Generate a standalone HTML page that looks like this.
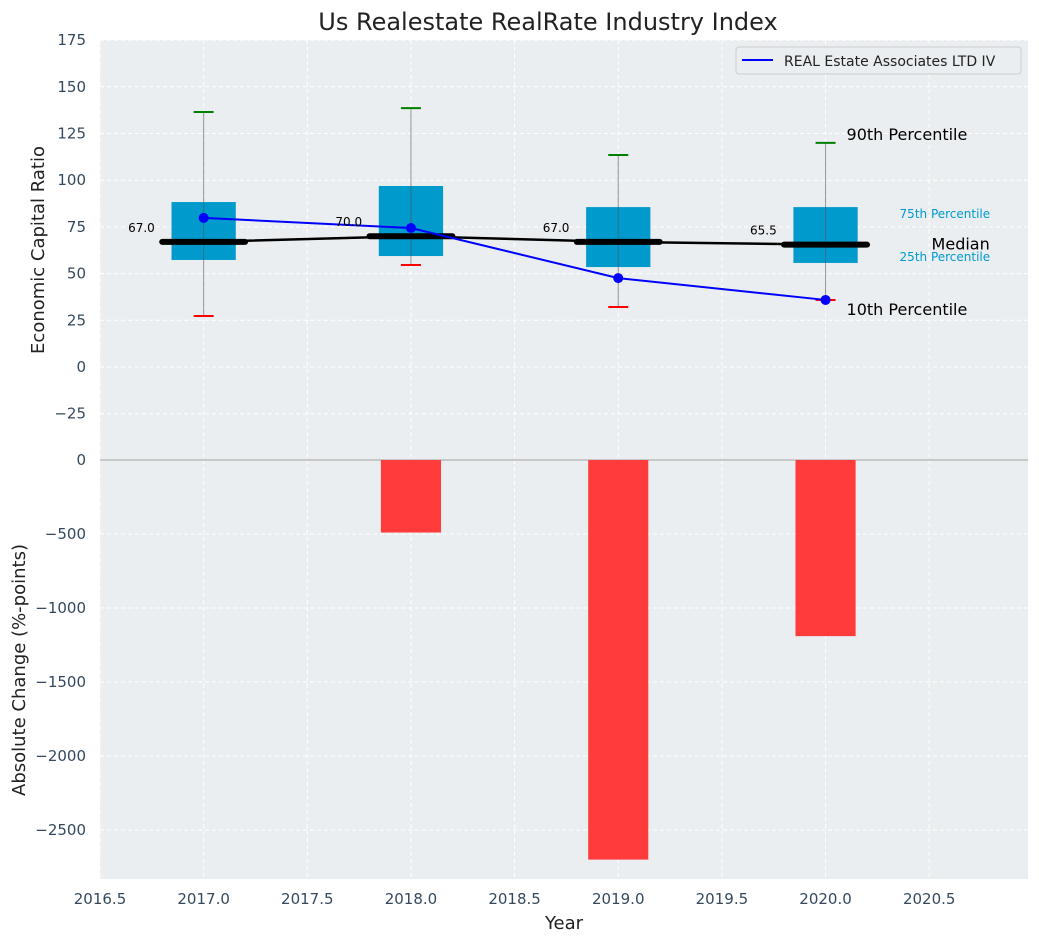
<!DOCTYPE html>
<html><head><meta charset="utf-8"><style>
body{margin:0;background:#fff;}
svg text{font-family:"DejaVu Sans","Liberation Sans",sans-serif;}
</style></head><body>
<svg id="chart" width="1039" height="942" xmlns="http://www.w3.org/2000/svg">
<rect width="1039" height="942" fill="#fff"/>
<rect x="100" y="40" width="928" height="420" fill="#eaeef0"/>
<rect x="100" y="460" width="928" height="419" fill="#eaeef0"/>
<g id="grid"></g><g id="marks"></g><g id="labels"></g>
<text x="548" y="30" font-size="24" text-anchor="middle" fill="#222">Us Realestate RealRate Industry Index</text>
<text transform="translate(44,250) rotate(-90)" font-size="18" text-anchor="middle" fill="#222">Economic Capital Ratio</text>
<text transform="translate(25,670) rotate(-90)" font-size="18" text-anchor="middle" fill="#222">Absolute Change (%-points)</text>
<text x="564" y="929" font-size="18" text-anchor="middle" fill="#222">Year</text>
<g>
<rect x="736" y="47" width="285" height="27" rx="3" fill="#eaeef0" stroke="#ccc"/>
<line x1="742" y1="60" x2="773" y2="60" stroke="#0000ff" stroke-width="2"/>
<text x="784" y="66" font-size="14" fill="#222">REAL Estate Associates LTD IV</text>
</g>
</svg>
<script>
const years=[2017,2018,2019,2020];
const p90=[136.5,138.6,113.5,120];
const p75=[88.3,96.9,85.6,85.6];
const p25=[57.3,59.4,53.5,55.7];
const p10=[27.3,54.6,32.1,35.9];
const medians=[67.0,70.0,67.0,65.5];
const company=[79.8,74.4,47.6,35.9];
const changeYears=[2018,2019,2020];
const changes=[-490,-2700,-1190];
const topTicks=[-25,0,25,50,75,100,125,150,175];
const bottomTicks=[-2500,-2000,-1500,-1000,-500,0];
const xTicks=[2016.5,2017,2017.5,2018,2018.5,2019,2019.5,2020,2020.5];

const NS="http://www.w3.org/2000/svg";
const X=v=>100+(v-2016.5)*207.3;
const YT=v=>367-v*1.868;
const YB=v=>460-v*0.148;
function mk(p,tag,a){const e=document.createElementNS(NS,tag);for(const k in a)e.setAttribute(k,a[k]);document.getElementById(p).appendChild(e);return e;}
xTicks.forEach(t=>{
 let l=mk('grid','line',{x1:X(t),x2:X(t),y1:40,y2:879,stroke:'#fff','stroke-dasharray':'4,3'});
 
 
 let tx=mk('labels','text',{x:X(t),y:904,'font-size':15,'text-anchor':'middle',fill:'#34495e'});
 tx.textContent=t.toFixed(1);
 
 
});
topTicks.forEach(t=>{
 let l=mk('grid','line',{x1:100,x2:1028,y1:YT(t),y2:YT(t),stroke:'#fff','stroke-dasharray':'4,3'});
 
 
 let tx=mk('labels','text',{x:86,y:YT(t)+5,'font-size':15,'text-anchor':'end',fill:'#34495e'});
 tx.textContent=t<0?'\u2212'+Math.abs(t):t;
 
 
});
bottomTicks.forEach(t=>{
 let l=mk('grid','line',{x1:100,x2:1028,y1:YB(t),y2:YB(t),stroke:'#fff','stroke-dasharray':'4,3'});
 
 
 let tx=mk('labels','text',{x:86,y:YB(t)+5,'font-size':15,'text-anchor':'end',fill:'#34495e'});
 tx.textContent=t<0?'\u2212'+Math.abs(t):t;
 
 
});
let zl=mk('marks','line',{x1:100,x2:1028,y1:YB(0),y2:YB(0),stroke:'#bbb','stroke-width':1.5});


changeYears.forEach((y,i)=>{
 const v=changes[i];
 let r=mk('marks','rect',{x:X(y-0.145),width:X(y+0.145)-X(y-0.145),y:YB(0),height:YB(v)-YB(0),fill:'#ff3b3b'});
 
 
});
years.forEach((y,i)=>{
 let b=mk('marks','rect',{x:X(y-0.155),width:X(y+0.155)-X(y-0.155),y:YT(p75[i]),height:YT(p25[i])-YT(p75[i]),fill:'#009acd'});
 
 
 let w=mk('marks','line',{x1:X(y),x2:X(y),y1:YT(p90[i]),y2:YT(p10[i]),stroke:'#555','stroke-opacity':0.6,'stroke-width':1});
 
 
 let c1=mk('marks','line',{x1:X(y)-10,x2:X(y)+10,y1:YT(p90[i]),y2:YT(p90[i]),stroke:'green','stroke-width':2});
 
 
 let c2=mk('marks','line',{x1:X(y)-10,x2:X(y)+10,y1:YT(p10[i]),y2:YT(p10[i]),stroke:'red','stroke-width':2});
 
 
});
let mp=mk('marks','polyline',{points:years.map((y,i)=>X(y)+','+YT(medians[i])).join(' '),fill:'none',stroke:'#000','stroke-width':2.5});


years.forEach((y,i)=>{
 let m=mk('marks','line',{x1:X(y-0.2),x2:X(y+0.2),y1:YT(medians[i]),y2:YT(medians[i]),stroke:'#000','stroke-width':6,'stroke-linecap':'round'});
 
 
 let t=mk('labels','text',{x:X(y-0.3),y:YT(medians[i])-10,'font-size':12,'text-anchor':'middle',fill:'#000'});
 t.textContent=medians[i].toFixed(1);
 
 
});
let cl=mk('marks','polyline',{points:years.map((y,i)=>X(y)+','+YT(company[i])).join(' '),fill:'none',stroke:'#0000ff','stroke-width':2});


years.forEach((y,i)=>{
 let c=mk('marks','circle',{cx:X(y),cy:YT(company[i]),r:5,fill:'#0000ff'});
 
 
});
const li=years.length-1, lx=X(years[li]);
[['90th Percentile',lx+21,YT(p90[li])-3,16,'#000'],['10th Percentile',lx+21,YT(p10[li])+15,16,'#000'],
 ['Median',lx+106,YT(medians[li])+5,16,'#000'],['75th Percentile',lx+74,YT(p75[li])+11,12,'#009acd'],
 ['25th Percentile',lx+74,YT(p25[li])-2,12,'#009acd']].forEach(a=>{
 let t=mk('labels','text',{x:a[1],y:a[2],'font-size':a[3],fill:a[4]});
 t.textContent=a[0];
 
 
});
</script>
</body></html>
